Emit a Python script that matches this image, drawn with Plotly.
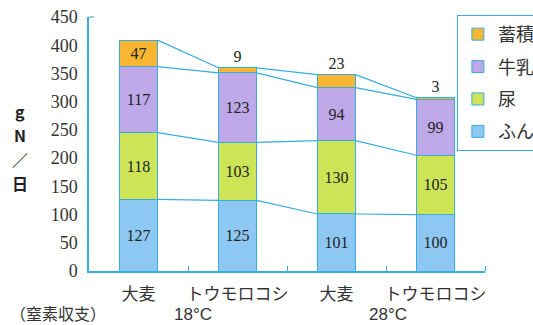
import plotly.graph_objects as go

# Nitrogen balance (g N / day) by feed and temperature
categories = ["大麦", "トウモロコシ", "大麦", "トウモロコシ"]
series_names = ["ふん", "尿", "牛乳", "蓄積"]
feces = [127, 125, 101, 100]
urine = [118, 103, 130, 105]
milk = [117, 123, 94, 99]
retained = [47, 9, 23, 3]
series_values = [feces, urine, milk, retained]
colors = ["#8CC8F2", "#CCE456", "#BEA8E8", "#F8B632"]
temperature_labels = ["18°C", "28°C"]
y_ticks = [0, 50, 100, 150, 200, 250, 300, 350, 400, 450]
y_title_chars = ["g", "N", "／", "日"]

LINE = "#36AEDF"
SERIF = "Liberation Serif, DejaVu Serif, serif"
JP = "Noto Sans CJK JP, sans-serif"
BAR_W = 0.385
PLOT_H = 254  # pixel height of the plotting area

xs = list(range(len(categories)))
fig = go.Figure()

n_series = len(series_names)
for idx, (name, vals, col) in enumerate(zip(series_names, series_values, colors)):
    is_top = name == "蓄積"
    fig.add_trace(go.Bar(
        x=xs, y=vals, name=name, width=BAR_W, legendgroup=name,
        legendrank=n_series - idx,
        marker=dict(color=col, line=dict(color=LINE, width=1)),
        text=[str(v) for v in vals],
        textposition=(["inside", "outside", "outside", "outside"] if is_top else "inside"),
        insidetextanchor="middle",
        textangle=0,
        textfont=dict(family=SERIF, size=16, color="#222"),
        constraintext="none",
        cliponaxis=False,
    ))

# connector lines between stacked segment boundaries of neighbouring bars
cum = [0] * len(xs)
for vals in series_values:
    cum = [c + v for c, v in zip(cum, vals)]
    lx, ly = [], []
    for i in range(len(xs) - 1):
        lx += [xs[i] + BAR_W / 2, xs[i + 1] - BAR_W / 2, None]
        ly += [cum[i], cum[i + 1], None]
    fig.add_trace(go.Scatter(x=lx, y=ly, mode="lines", showlegend=False,
                             line=dict(color=LINE, width=1.2), hoverinfo="skip"))

annotations = []
# vertical axis title, one character per row
for k, ch in enumerate(y_title_chars):
    annotations.append(dict(text="<b>" + ch + "</b>", xref="paper", yref="paper",
                            x=-0.175, y=1 - (94 + 24 * k) / PLOT_H,
                            showarrow=False, font=dict(family=JP, size=16, color="#222"),
                            xanchor="center", yanchor="middle"))
annotations.append(dict(text="（窒素収支）", xref="paper", yref="paper", x=-0.205, y=0,
                        yshift=-42, showarrow=False,
                        font=dict(family=JP, size=16, color="#333"),
                        xanchor="left", yanchor="middle"))
for lab, xv in zip(temperature_labels, [0.55, 2.52]):
    annotations.append(dict(text=lab, xref="x", yref="paper", x=xv, y=0, yshift=-43,
                            showarrow=False,
                            font=dict(family="Liberation Sans, sans-serif", size=17, color="#333"),
                            xanchor="center", yanchor="middle"))

fig.update_layout(
    width=533, height=325,
    margin=dict(l=89, r=48, t=17, b=54, autoexpand=False),
    paper_bgcolor="white", plot_bgcolor="white",
    barmode="stack",
    showlegend=True,
    legend=dict(x=0.929, y=1.008, xanchor="left", yanchor="top",
                traceorder="grouped", tracegroupgap=6,
                bordercolor=LINE, borderwidth=1,
                bgcolor="white", font=dict(family=JP, size=18, color="#333"),
                itemwidth=30),
    annotations=annotations,
    shapes=[dict(type="line", xref="paper", yref="paper", x0=0, x1=0.012, y0=1, y1=1,
                 line=dict(color=LINE, width=1.2))],
    xaxis=dict(range=[-0.5, 3.5], tickmode="array", tickvals=xs, ticktext=categories,
               ticks="", showline=True, linecolor=LINE, linewidth=1.5, showgrid=False,
               zeroline=False, tickfont=dict(family=JP, size=17, color="#333"),
               ticklabelstandoff=7,
               minor=dict(tickvals=[0.5, 1.5, 2.5, 3.5], ticks="inside", ticklen=5,
                          tickcolor=LINE, tickwidth=1.2, showgrid=False)),
    yaxis=dict(range=[0, 450], tickmode="array", tickvals=y_ticks, ticks="",
               showline=True, linecolor=LINE, linewidth=1.5, showgrid=False,
               zeroline=False, tickfont=dict(family=SERIF, size=18, color="#333"),
               ticklabelstandoff=6),
)

fig.write_html("out.html")
